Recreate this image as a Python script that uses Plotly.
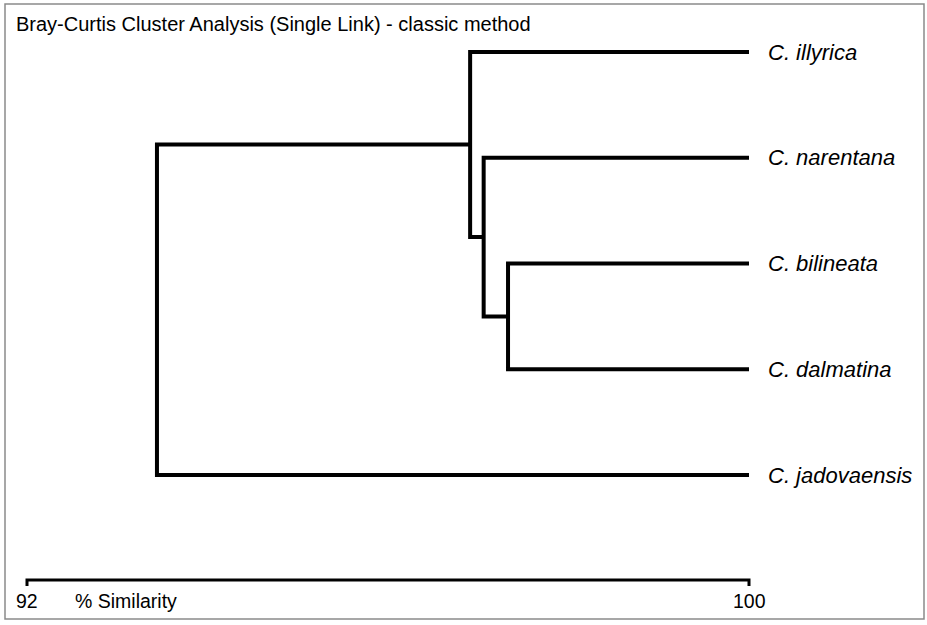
import plotly.graph_objects as go

# ---- data ----
leaves = ["C. illyrica", "C. narentana", "C. bilineata", "C. dalmatina", "C. jadovaensis"]
# merges: (child_a, child_b, similarity) ; children are leaf names or merge indices
merge_a = ["C. bilineata", "C. narentana", "C. illyrica", 2]
merge_b = ["C. dalmatina", 0, 1, "C. jadovaensis"]
merge_sim = [97.33, 97.06, 96.91, 93.44]
axis_min, axis_max = 92, 100
axis_title = "% Similarity"
title = "Bray-Curtis Cluster Analysis (Single Link) - classic method"

W, H = 927, 625
px0, pxscale = 27, 90.25          # pixel of 92 and px per unit
leaf_y0, leaf_dy = 52, 105.75      # pixel of first leaf and spacing

xr = [axis_min - px0 / pxscale, axis_min + (W - px0) / pxscale]
yr = [(H - leaf_y0) / leaf_dy, -leaf_y0 / leaf_dy]

# node coordinates
pos = {name: (axis_max, i) for i, name in enumerate(leaves)}
def node(c):
    return pos[c] if isinstance(c, str) else pos[("m", c)]

xs, ys = [], []
for k, (a, b, s) in enumerate(zip(merge_a, merge_b, merge_sim)):
    xa, ya = node(a)
    xb, yb = node(b)
    xs += [xa, s, s, xb, None]
    ys += [ya, ya, yb, yb, None]
    pos[("m", k)] = (s, (ya + yb) / 2)

fig = go.Figure()
fig.add_trace(go.Scatter(x=xs, y=ys, mode="lines",
                         line=dict(color="black", width=4),
                         hoverinfo="skip", showlegend=False))

# scale bar
bar_y = (580 - leaf_y0) / leaf_dy
tick_y = (586 - leaf_y0) / leaf_dy
fig.add_trace(go.Scatter(x=[axis_min, axis_min, axis_max, axis_max],
                         y=[tick_y, bar_y, bar_y, tick_y], mode="lines",
                         line=dict(color="black", width=3),
                         hoverinfo="skip", showlegend=False))

lab_y = (601 - leaf_y0) / leaf_dy
ann = []
for name, (x, y) in [(n, pos[n]) for n in leaves]:
    ann.append(dict(x=x, y=y, text=name, xanchor="left", yanchor="middle",
                    xshift=17, showarrow=False,
                    font=dict(family="Liberation Sans, Arial", size=22,
                              color="black", style="italic")))
ann.append(dict(x=axis_min, y=lab_y, text=str(axis_min), xanchor="center",
                yanchor="middle", showarrow=False,
                font=dict(family="Liberation Sans, Arial", size=19.5, color="black")))
ann.append(dict(x=axis_max, y=lab_y, text=str(axis_max), xanchor="center",
                yanchor="middle", showarrow=False,
                font=dict(family="Liberation Sans, Arial", size=19.5, color="black")))
ann.append(dict(x=axis_min, y=lab_y, text=axis_title, xanchor="left",
                yanchor="middle", xshift=46, showarrow=False,
                font=dict(family="Liberation Sans, Arial", size=19.5, color="black")))
ann.append(dict(x=14 / W, y=1 - 24 / H, xref="paper", yref="paper", text=title,
                xanchor="left", yanchor="middle", showarrow=False,
                font=dict(family="Liberation Sans, Arial", size=20, color="black")))

fig.update_layout(
    width=W, height=H, margin=dict(l=0, r=0, t=0, b=0),
    paper_bgcolor="white", plot_bgcolor="white",
    xaxis=dict(range=xr, visible=False, fixedrange=True),
    yaxis=dict(range=yr, visible=False, fixedrange=True),
    annotations=ann,
    shapes=[dict(type="rect", xref="paper", yref="paper",
                 x0=5 / W, x1=924 / W, y0=1 - 619 / H, y1=1 - 4 / H,
                 line=dict(color="#8a8a8a", width=1.5))],
)
fig.write_html("out.html", config={"displayModeBar": False},
               post_script="document.body.style.margin='0';document.body.style.overflow='hidden';")
